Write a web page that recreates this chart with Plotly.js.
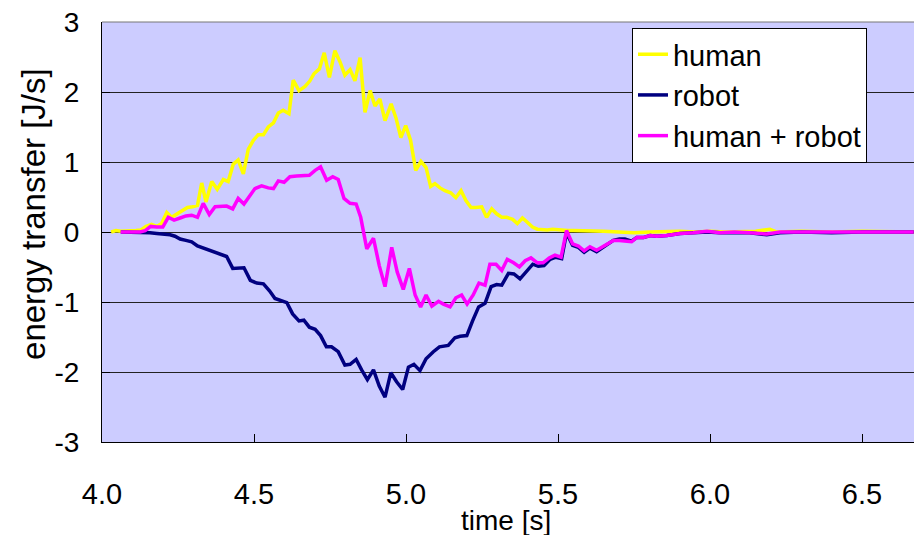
<!DOCTYPE html>
<html>
<head>
<meta charset="utf-8">
<script src="https://cdn.plot.ly/plotly-3.0.1.min.js"></script>
<style>html,body{margin:0;padding:0;background:#fff;}#chart{width:914px;height:535px;}</style>
</head>
<body>
<div id="chart"></div>
<script>
// time [s] and energy transfer [J/s]
var tHuman = [4.030,4.046,4.062,4.079,4.095,4.112,4.128,4.145,4.163,4.180,4.196,4.213,4.229,4.245,4.262,4.281,4.298,4.314,4.328,4.342,4.361,4.379,4.399,4.415,4.432,4.448,4.465,4.481,4.498,4.514,4.531,4.547,4.564,4.580,4.596,4.615,4.629,4.648,4.668,4.684,4.697,4.715,4.731,4.748,4.766,4.783,4.799,4.816,4.832,4.849,4.865,4.882,4.898,4.914,4.931,4.951,4.967,4.983,4.999,5.015,5.032,5.049,5.066,5.081,5.095,5.112,5.128,5.147,5.164,5.181,5.197,5.214,5.230,5.249,5.265,5.282,5.298,5.315,5.331,5.351,5.366,5.383,5.399,5.416,5.432,5.449,5.465,5.482,5.499,5.515,5.532,5.550,5.600,5.650,5.700,5.750,5.800,5.850,5.900,5.950,6.000,6.050,6.100,6.150,6.197,6.220,6.300,6.400,6.500,6.600,6.670];
var human = [0.00,0.02,0.01,0.01,0.01,0.02,0.03,0.08,0.11,0.08,0.12,0.28,0.21,0.25,0.30,0.35,0.36,0.38,0.70,0.43,0.72,0.61,0.75,0.72,0.97,1.03,0.83,1.18,1.31,1.39,1.39,1.50,1.56,1.70,1.74,1.69,2.17,2.02,2.08,2.16,2.26,2.33,2.56,2.21,2.59,2.43,2.24,2.32,2.16,2.49,1.71,2.02,1.80,1.90,1.59,1.83,1.63,1.35,1.52,1.31,0.88,1.01,0.92,0.65,0.69,0.63,0.59,0.56,0.49,0.59,0.45,0.35,0.35,0.36,0.21,0.33,0.26,0.21,0.21,0.18,0.12,0.20,0.14,0.07,0.04,0.03,0.03,0.04,0.03,0.03,0.02,0.02,0.02,0.01,0.00,-0.01,0.00,0.01,0.01,0.00,0.01,0.00,0.00,0.01,0.04,0.00,0.01,0.00,0.01,0.00,0.00];

var tRobot = [4.062,4.080,4.100,4.120,4.136,4.158,4.180,4.202,4.224,4.240,4.257,4.276,4.295,4.314,4.333,4.353,4.372,4.391,4.410,4.430,4.448,4.467,4.488,4.509,4.531,4.551,4.569,4.591,4.608,4.627,4.648,4.664,4.682,4.701,4.719,4.738,4.755,4.777,4.799,4.816,4.836,4.854,4.873,4.893,4.912,4.931,4.950,4.969,4.989,5.008,5.026,5.046,5.066,5.090,5.110,5.139,5.161,5.178,5.200,5.219,5.239,5.260,5.280,5.298,5.315,5.337,5.355,5.375,5.395,5.417,5.435,5.454,5.474,5.493,5.512,5.528,5.548,5.567,5.586,5.605,5.627,5.643,5.662,5.682,5.702,5.720,5.742,5.759,5.781,5.803,5.825,5.858,5.901,5.945,5.990,6.033,6.080,6.130,6.187,6.230,6.300,6.400,6.500,6.600,6.670];
var robot = [0.00,0.00,0.00,0.00,0.00,-0.01,-0.02,-0.03,-0.04,-0.06,-0.10,-0.12,-0.14,-0.20,-0.23,-0.26,-0.29,-0.32,-0.35,-0.52,-0.52,-0.51,-0.69,-0.73,-0.74,-0.84,-0.95,-0.98,-1.01,-1.17,-1.27,-1.26,-1.36,-1.39,-1.48,-1.64,-1.64,-1.71,-1.90,-1.89,-1.82,-1.97,-2.11,-1.97,-2.20,-2.36,-2.01,-2.14,-2.25,-1.93,-1.89,-1.98,-1.81,-1.71,-1.64,-1.62,-1.51,-1.49,-1.48,-1.27,-1.07,-1.02,-0.78,-0.75,-0.76,-0.59,-0.60,-0.67,-0.57,-0.46,-0.49,-0.48,-0.39,-0.36,-0.38,-0.01,-0.19,-0.22,-0.29,-0.23,-0.28,-0.23,-0.18,-0.12,-0.10,-0.10,-0.13,-0.08,-0.08,-0.05,-0.06,-0.05,-0.02,-0.01,0.00,-0.01,-0.01,-0.01,-0.04,-0.01,0.00,-0.01,0.00,0.00,0.00];

var tSum = [4.061,4.080,4.100,4.125,4.142,4.160,4.180,4.200,4.218,4.237,4.257,4.276,4.295,4.314,4.333,4.353,4.372,4.391,4.410,4.430,4.448,4.467,4.487,4.503,4.525,4.547,4.564,4.580,4.599,4.618,4.640,4.662,4.682,4.701,4.719,4.739,4.759,4.777,4.796,4.816,4.836,4.851,4.871,4.893,4.912,4.931,4.953,4.971,4.991,5.011,5.030,5.048,5.066,5.085,5.107,5.123,5.145,5.164,5.183,5.201,5.221,5.240,5.260,5.276,5.296,5.315,5.333,5.354,5.373,5.392,5.411,5.432,5.451,5.471,5.490,5.510,5.528,5.548,5.567,5.586,5.605,5.627,5.643,5.662,5.682,5.702,5.720,5.742,5.759,5.781,5.803,5.825,5.858,5.901,5.945,5.990,6.033,6.080,6.130,6.187,6.230,6.300,6.400,6.500,6.600,6.670];
var humanRobot = [0.00,0.00,0.00,0.00,0.02,0.08,0.07,0.07,0.21,0.17,0.20,0.23,0.24,0.21,0.41,0.25,0.36,0.37,0.37,0.33,0.48,0.40,0.52,0.62,0.66,0.63,0.62,0.73,0.71,0.79,0.80,0.80,0.81,0.88,0.93,0.74,0.79,0.75,0.48,0.41,0.40,0.21,-0.24,-0.09,-0.48,-0.78,-0.22,-0.57,-0.82,-0.52,-0.90,-1.07,-0.90,-1.06,-0.99,-1.03,-1.07,-0.94,-0.90,-1.03,-0.90,-0.73,-0.76,-0.46,-0.46,-0.55,-0.39,-0.44,-0.50,-0.41,-0.37,-0.44,-0.44,-0.37,-0.33,-0.36,0.02,-0.17,-0.20,-0.27,-0.21,-0.26,-0.22,-0.17,-0.12,-0.12,-0.13,-0.14,-0.08,-0.08,-0.05,-0.06,-0.05,-0.02,-0.01,0.01,-0.01,0.00,-0.01,-0.03,0.00,0.00,0.00,0.00,0.00,0.00];

var seriesNames = ['human', 'robot', 'human + robot'];
var xTickVals = [4.0, 4.5, 5.0, 5.5, 6.0, 6.5];
var xTickText = ['4.0', '4.5', '5.0', '5.5', '6.0', '6.5'];
var yTickVals = [-3, -2, -1, 0, 1, 2, 3];
var yTickText = ['-3', '-2', '-1', '0', '1', '2', '3'];
var xTitle = 'time [s]';
var yTitle = 'energy transfer [J/s]';

var FONT = 'Liberation Sans, Arial, sans-serif';

var traces = [
  {x: tHuman, y: human, name: seriesNames[0], type: 'scatter', mode: 'lines', line: {color: '#FFFF00', width: 3.5}},
  {x: tRobot, y: robot, name: seriesNames[1], type: 'scatter', mode: 'lines', line: {color: '#000080', width: 3.5}},
  {x: tSum, y: humanRobot, name: seriesNames[2], type: 'scatter', mode: 'lines', line: {color: '#FF00FF', width: 3.5}}
];

var layout = {
  width: 914, height: 535,
  margin: {l: 102, r: 0, t: 22, b: 93, pad: 0},
  paper_bgcolor: '#FFFFFF',
  plot_bgcolor: '#CCCCFF',
  font: {family: FONT, color: '#000000', size: 28},
  showlegend: true,
  legend: {
    x: 0.6527, y: 0.986, xanchor: 'left', yanchor: 'top',
    bgcolor: '#FFFFFF', bordercolor: '#000000', borderwidth: 1,
    font: {family: FONT, size: 29, color: '#000000'},
    itemwidth: 30, tracegroupgap: 0
  },
  xaxis: {
    range: [4.0, 6.671], autorange: false,
    tickmode: 'array', tickvals: xTickVals, ticktext: xTickText,
    ticks: 'inside', ticklen: 8, tickwidth: 1, tickcolor: '#000000',
    showline: true, linecolor: '#000000', linewidth: 1,
    showgrid: false, zeroline: false,
    tickfont: {family: FONT, size: 29},
    ticklabelstandoff: 26,
    automargin: false, fixedrange: true
  },
  yaxis: {
    range: [-3, 3], autorange: false,
    tickmode: 'array', tickvals: yTickVals, ticktext: yTickText,
    ticks: 'inside', ticklen: 8, tickwidth: 1, tickcolor: '#000000',
    showline: true, linecolor: '#000000', linewidth: 1,
    showgrid: true, gridcolor: '#222222', gridwidth: 1, zeroline: false,
    tickfont: {family: FONT, size: 28},
    ticklabelstandoff: 16,
    automargin: false, fixedrange: true
  },
  annotations: [
    {text: yTitle, xref: 'paper', yref: 'paper', x: -0.0837, y: 0.543,
     xanchor: 'center', yanchor: 'middle', textangle: -90, showarrow: false,
     font: {family: FONT, size: 33, color: '#000000'}},
    {text: xTitle, xref: 'paper', yref: 'paper', x: 0.4975, y: -0.188,
     xanchor: 'center', yanchor: 'middle', showarrow: false,
     font: {family: FONT, size: 28, color: '#000000'}}
  ],
  shapes: [
    {type: 'line', xref: 'paper', yref: 'paper', x0: 0, x1: 1, y0: 1, y1: 1, line: {color: '#777777', width: 1}}
  ]
};

Plotly.newPlot('chart', traces, layout, {staticPlot: true, displayModeBar: false});
</script>
</body>
</html>
